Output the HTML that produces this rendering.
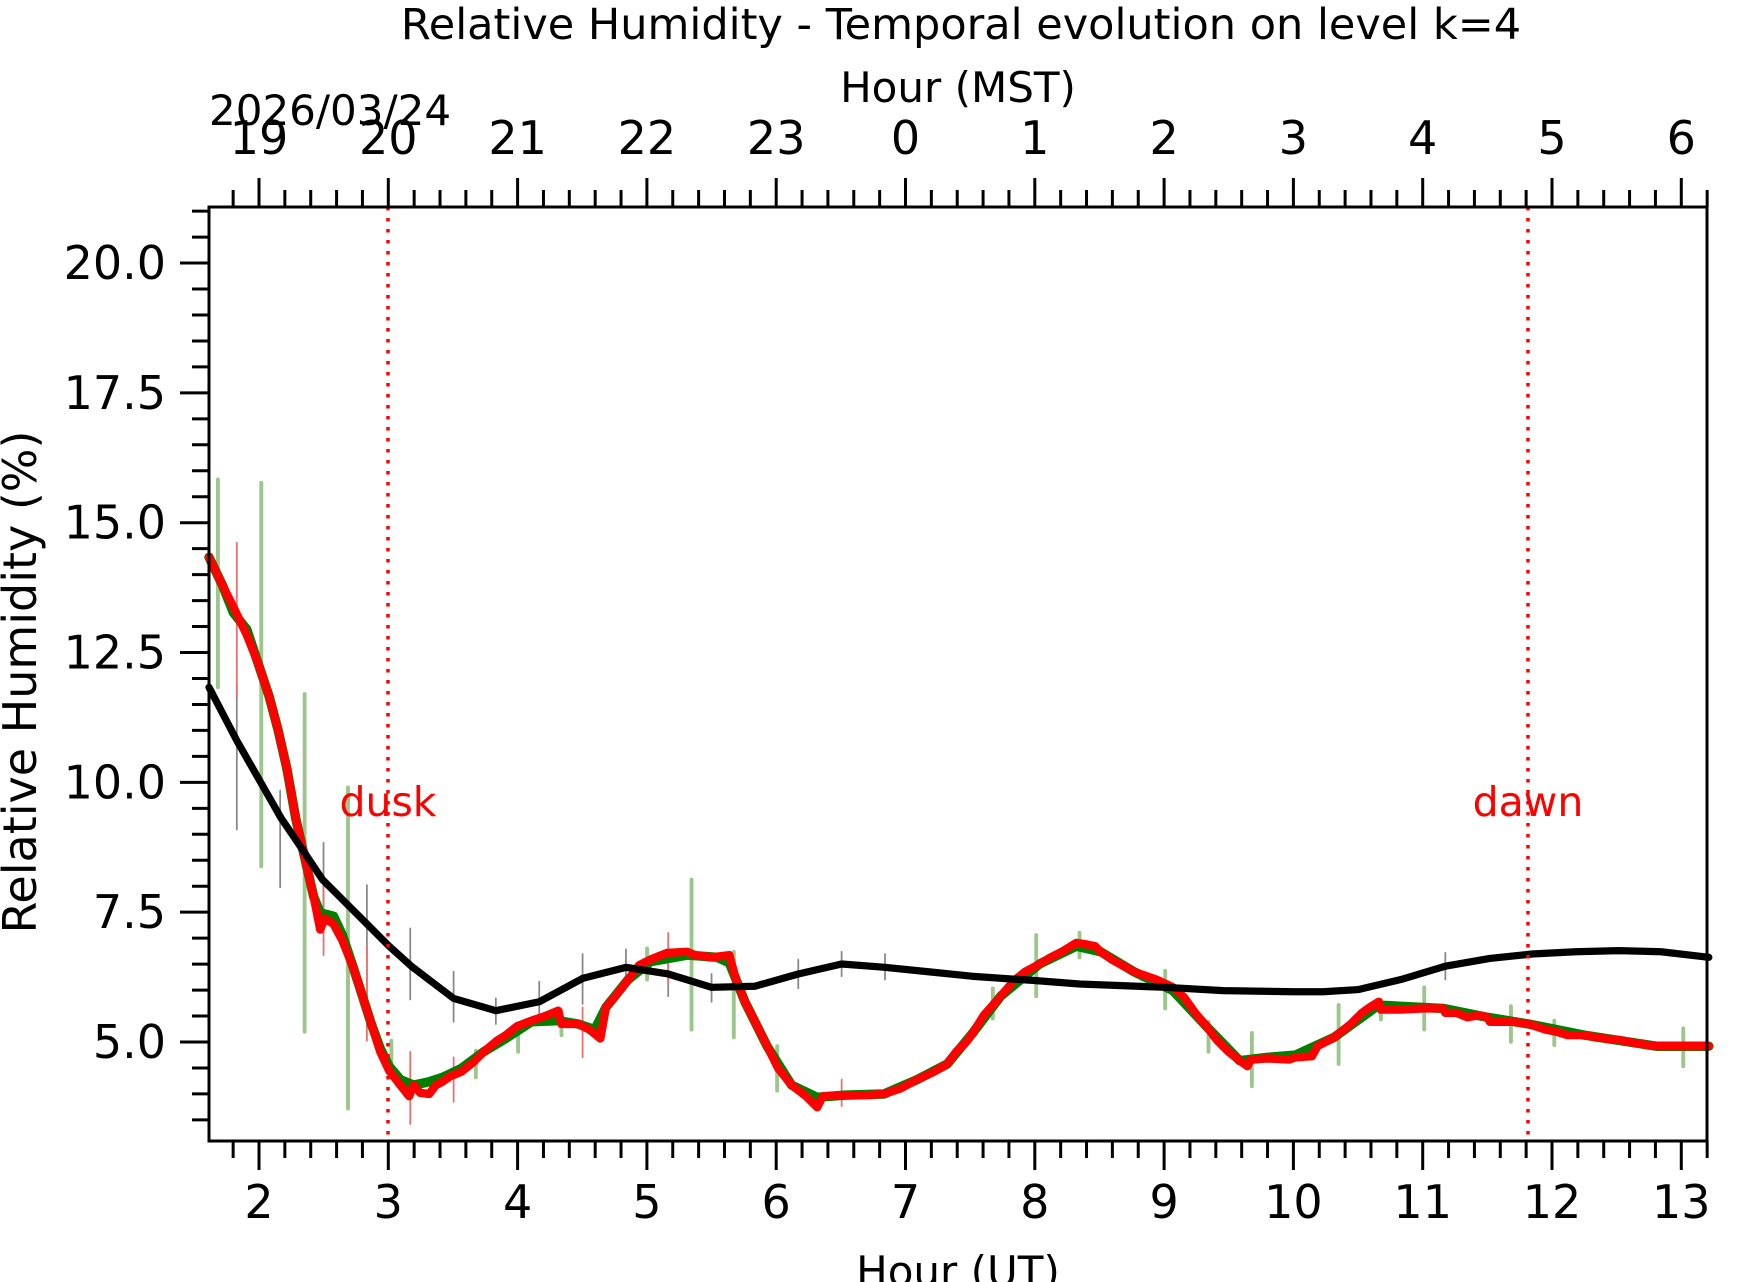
<!DOCTYPE html>
<html><head><meta charset="utf-8"><style>
html,body{margin:0;padding:0;background:#fff;}
svg{display:block;font-family:"DejaVu Sans","Liberation Sans",sans-serif;}
</style></head><body>
<svg width="1742" height="1282" viewBox="0 0 1742 1282" xmlns="http://www.w3.org/2000/svg">
<rect width="1742" height="1282" fill="#fff"/>
<g transform="matrix(1.1118 0 0 1.1113 0 1.6)" fill="none" stroke-linejoin="round" stroke-linecap="round">
<g stroke="#9dc68c" stroke-width="3.5">
<line x1="196" y1="430" x2="196" y2="617"/><line x1="235" y1="433" x2="235" y2="778"/>
<line x1="274" y1="623" x2="274" y2="927"/><line x1="313" y1="707" x2="313" y2="996"/>
<line x1="352" y1="935" x2="352" y2="962"/><line x1="428" y1="944" x2="428" y2="968"/>
<line x1="466" y1="920" x2="466" y2="945"/><line x1="505" y1="908" x2="505" y2="930"/>
<line x1="582" y1="852" x2="582" y2="880"/><line x1="622" y1="790" x2="622" y2="925"/>
<line x1="660" y1="855" x2="660" y2="932"/><line x1="699" y1="940" x2="699" y2="980"/>
<line x1="893" y1="888" x2="893" y2="915"/><line x1="932" y1="840" x2="932" y2="895"/>
<line x1="971" y1="838" x2="971" y2="860"/><line x1="1048" y1="872" x2="1048" y2="906"/>
<line x1="1087" y1="918" x2="1087" y2="945"/><line x1="1126" y1="928" x2="1126" y2="976"/>
<line x1="1204" y1="903" x2="1204" y2="956"/><line x1="1242" y1="898" x2="1242" y2="916"/>
<line x1="1281" y1="887" x2="1281" y2="925"/><line x1="1359" y1="904" x2="1359" y2="936"/>
<line x1="1398" y1="917" x2="1398" y2="939"/><line x1="1514" y1="924" x2="1514" y2="958"/>
</g>
<g stroke="#888" stroke-width="1.6">
<line x1="213" y1="615" x2="213" y2="745"/><line x1="252" y1="710" x2="252" y2="797"/>
<line x1="291" y1="757" x2="291" y2="825"/><line x1="330" y1="795" x2="330" y2="905"/>
<line x1="369" y1="834" x2="369" y2="898"/><line x1="408" y1="873" x2="408" y2="918"/>
<line x1="446" y1="897" x2="446" y2="920"/><line x1="485" y1="882" x2="485" y2="918"/>
<line x1="524" y1="857" x2="524" y2="902"/><line x1="563" y1="853" x2="563" y2="885"/>
<line x1="601" y1="862" x2="601" y2="895"/><line x1="640" y1="875" x2="640" y2="900"/>
<line x1="718" y1="862" x2="718" y2="888"/><line x1="757" y1="855" x2="757" y2="877"/>
<line x1="796" y1="857" x2="796" y2="880"/><line x1="1300" y1="856" x2="1300" y2="880"/>
</g>
<g stroke="#e87070" stroke-width="1.6">
<line x1="213" y1="487" x2="213" y2="625"/><line x1="291" y1="795" x2="291" y2="858"/>
<line x1="330" y1="850" x2="330" y2="935"/><line x1="369" y1="945" x2="369" y2="1010"/>
<line x1="408" y1="950" x2="408" y2="990"/><line x1="524" y1="905" x2="524" y2="950"/>
<line x1="601" y1="838" x2="601" y2="882"/><line x1="757" y1="970" x2="757" y2="994"/>
</g>
<polyline stroke="#008000" stroke-width="8.5" points="188,500 200,525 210,550 222,565 232,595 242,625 250,655 258,690 266,735 274,770 282,805 288,820 300,823 308,840 318,870 326,895 334,920 342,942 350,958 360,970 372,975 386,972 398,968 415,960 435,945 455,933 478,918 502,917 520,920 535,925 545,905 565,880 585,864 618,858 645,860 656,865 670,900 690,940 712,975 735,986 760,984 795,983 825,970 852,956 875,928 900,895 935,866 968,850 990,855 1020,873 1055,890 1085,922 1115,953 1140,950 1165,948 1200,932 1240,903 1298,906 1338,914 1375,920 1425,930 1490,940 1537,940"/>
<polyline stroke="#ff0000" stroke-width="7.5" points="188,500 200,525 210,545 222,570 232,595 242,625 250,655 258,690 266,735 274,770 282,805 288,835 292,825 300,830 308,845 318,870 326,895 334,920 342,945 350,962 360,975 368,985 372,975 378,982 386,983 392,975 398,972 405,967 415,963 425,955 435,945 447,935 455,930 465,922 478,917 490,913 502,908 505,920 520,920 530,925 540,933 545,905 555,893 565,880 575,867 585,862 600,856 618,855 625,858 640,860 656,858 662,880 670,900 680,920 690,940 700,960 712,975 725,985 735,995 740,985 760,984 780,984 795,983 810,978 825,970 840,963 852,956 860,945 870,935 875,928 885,912 900,895 912,881 922,873 935,866 945,860 955,855 968,847 975,848 985,850 990,855 1000,862 1020,873 1040,880 1055,887 1065,896 1075,910 1085,922 1095,935 1105,945 1115,953 1122,958 1125,952 1140,951 1160,952 1165,950 1180,949 1185,940 1200,932 1215,920 1225,910 1232,905 1240,900 1242,907 1260,907 1280,906 1298,906 1300,910 1310,910 1320,914 1330,912 1338,914 1340,918 1360,918 1375,920 1390,925 1400,927 1410,930 1425,930 1435,932 1460,935 1475,938 1490,940 1515,940 1537,940"/>
<polyline stroke="#000" stroke-width="6.5" points="188,617 213,665 233,700 253,735 270,760 290,790 310,810 330,830 350,850 370,868 408,897 446,908 485,900 524,879 563,869 601,875 640,887 679,886 718,875 757,866 796,869 835,873 874,877 932,881 971,884 1048,887 1100,890 1164,891 1190,891 1222,889 1260,880 1300,868 1340,861 1378,857 1417,855 1456,854 1494,855 1537,860"/>
</g>
<g stroke="#ff0000" stroke-width="3.5" stroke-dasharray="3.5,7.5">
<line x1="388" y1="207" x2="388" y2="1141"/><line x1="1528" y1="207" x2="1528" y2="1141"/>
</g>
<g fill="#ff0000" font-size="41" text-anchor="middle">
<text x="388" y="816">dusk</text><text x="1528" y="816">dawn</text>
</g>
<rect x="209" y="207" width="1498" height="934" fill="none" stroke="#000" stroke-width="3"/>
<g id="ticks" stroke="#000" stroke-width="3"></g>
<g font-size="46" text-anchor="middle" fill="#000" id="labels"></g>
<text x="961" y="39" font-size="43" text-anchor="middle">Relative Humidity - Temporal evolution on level k=4</text>
<text x="958" y="102" font-size="42" text-anchor="middle">Hour (MST)</text>
<text x="209" y="125" font-size="42">2026/03/24</text>
<text x="958" y="1286" font-size="42" text-anchor="middle">Hour (UT)</text>
<text transform="translate(36,682) rotate(-90)" font-size="46" text-anchor="middle">Relative Humidity (%)</text>
<script>
(function(){
var ns="http://www.w3.org/2000/svg",t=document.getElementById("ticks"),L=document.getElementById("labels");
function ln(a,b,c,d){var e=document.createElementNS(ns,"line");e.setAttribute("x1",a);e.setAttribute("y1",b);e.setAttribute("x2",c);e.setAttribute("y2",d);t.appendChild(e);}
function tx(x,y,s,anc){var e=document.createElementNS(ns,"text");e.setAttribute("x",x);e.setAttribute("y",y);if(anc)e.setAttribute("text-anchor",anc);e.textContent=s;L.appendChild(e);}
function X(h){return 259+(h-2)*129.3;}
function Y(v){return 1042-(v-5)*51.93;}
for(var i=8;i<=66;i++){var h=i/5;var x=X(h);if(x<209||x>1708)continue;var maj=(i%5==0);var len=maj?29:17;
ln(x,1141,x,1141+len);ln(x,207,x,207-len);
if(maj){tx(x,1218,String(h));tx(x,154,String((h-7+24)%24));}}
for(var k=7;k<=42;k++){var v=k/2;var y=Y(v);if(y<207||y>1141)continue;var maj=(k%5==0);ln(209,y,209-(maj?29:17),y);
if(maj)tx(166,y+16,v.toFixed(1),"end");}
})();
</script>
</svg>
</body></html>
